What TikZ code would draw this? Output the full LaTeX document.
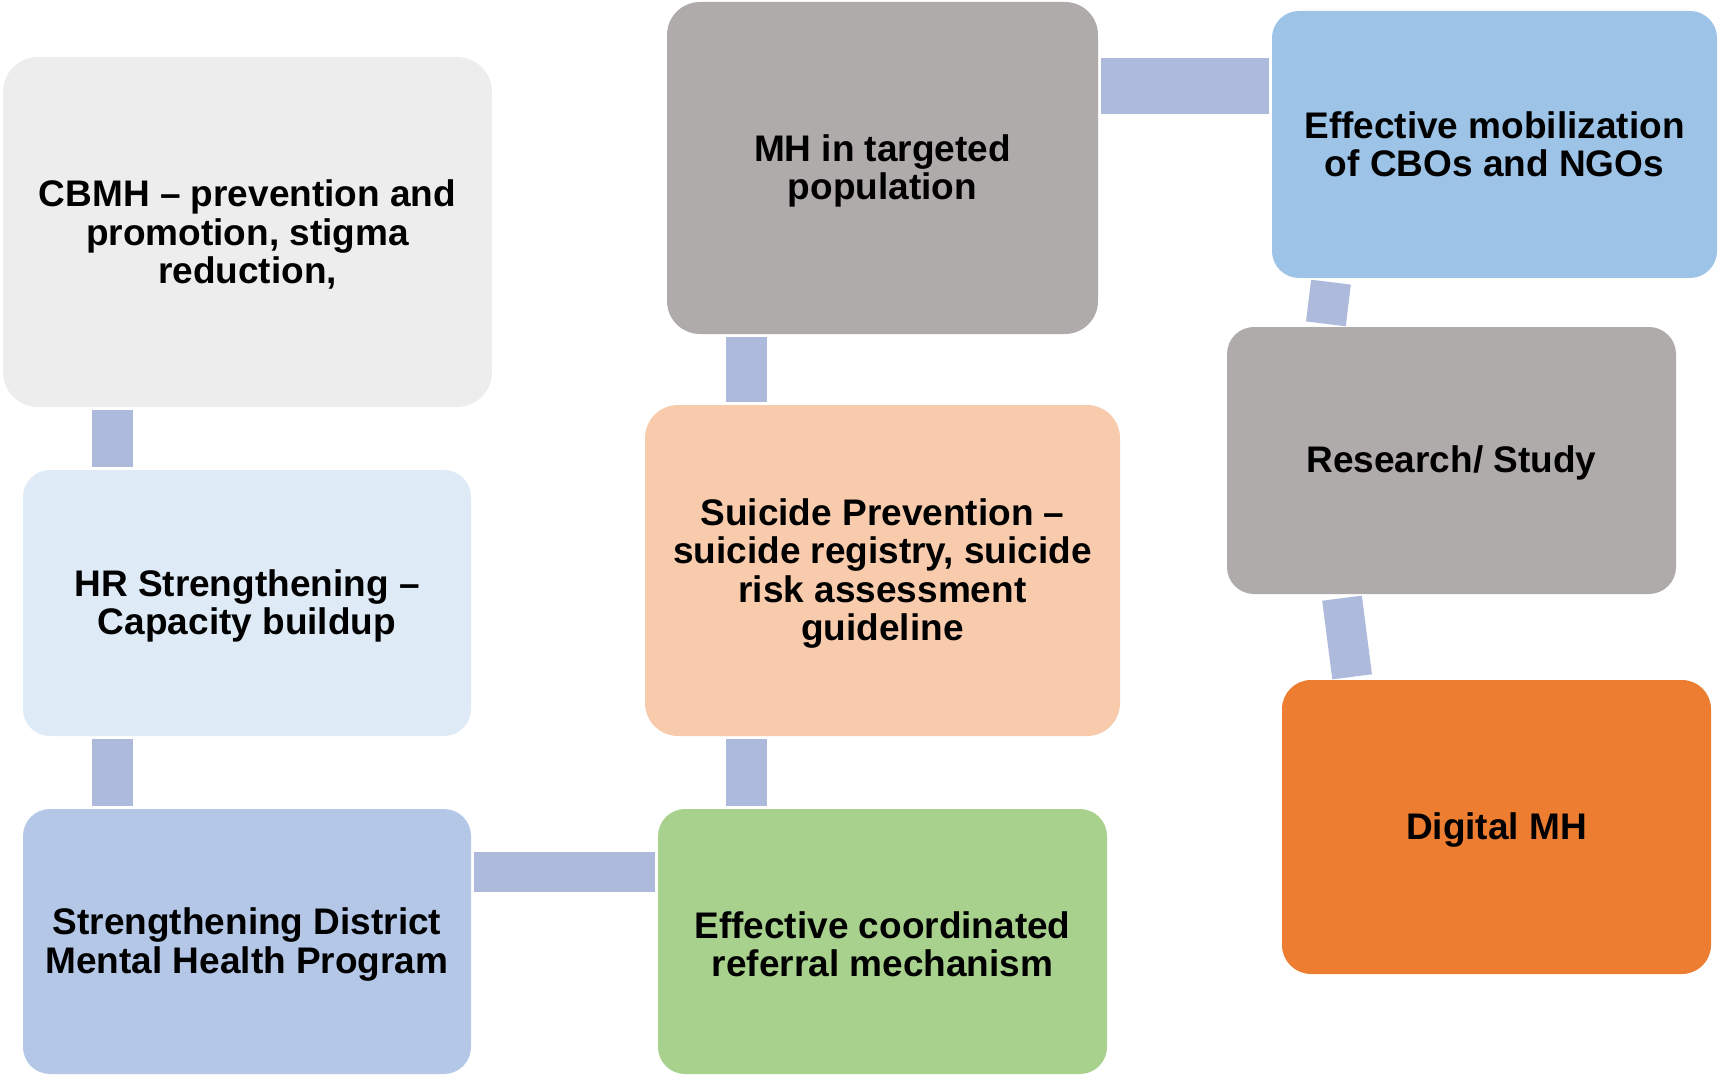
\documentclass[tikz,border=0pt]{standalone}
\usepackage{fontspec}
\setmainfont{Liberation Sans}
\definecolor{cbmhgrey}{HTML}{EDEDED}
\definecolor{hrblue}{HTML}{DEEAF6}
\definecolor{districtblue}{HTML}{B4C7E7}
\definecolor{stonegrey}{HTML}{AFABAB}
\definecolor{peach}{HTML}{F8CBAD}
\definecolor{leafgreen}{HTML}{A9D18E}
\definecolor{skyblue}{HTML}{9DC3E6}
\definecolor{digitalorange}{HTML}{ED7D31}
\definecolor{linkblue}{HTML}{AEBADC}
\newcommand\lift{\rule{0pt}{32.5pt}}

\begin{document}
\begin{tikzpicture}[
  x=1pt, y=-1pt,
  card/.style = {rectangle, rounded corners=#1, inner sep=0pt, align=center, text=black,
    font=\fontsize{37}{38.4}\selectfont\bfseries},
  card/.default = 27pt,
  link/.style = {draw=linkblue, line width=#1, shorten <=3pt, shorten >=3pt},
  link/.default = 41pt
]
  \useasboundingbox (0,0) rectangle (1718,1075);

  \node[card=35pt, fill=cbmhgrey, minimum width=489pt, minimum height=350pt] (cbmh) at (247.5,232)
    {\lift CBMH -- prevention and\\promotion, stigma\\reduction,};
  \node[card, fill=hrblue, minimum width=448pt, minimum height=266pt] (hr) at (247,603)
    {\lift HR Strengthening --\\Capacity buildup};
  \node[card, fill=districtblue, minimum width=448pt, minimum height=265pt] (district) at (247,941.5)
    {\lift Strengthening District\\Mental Health Program};
  \node[card=33pt, fill=stonegrey, minimum width=431pt, minimum height=332pt] (targeted) at (882.5,168)
    {\lift MH in targeted\\population};
  \node[card=33pt, fill=peach, minimum width=475pt, minimum height=331pt] (suicide) at (882.5,570.5)
    {\lift Suicide Prevention --\\suicide registry, suicide\\risk assessment\\guideline};
  \node[card, fill=leafgreen, minimum width=449pt, minimum height=265pt] (referral) at (882.5,941.5)
    {\lift Effective coordinated\\referral mechanism};
  \node[card, fill=skyblue, minimum width=445pt, minimum height=267pt] (mobilize) at (1494.5,144.5)
    {Effective mobilization\\of CBOs and NGOs};
  \node[card, fill=stonegrey, minimum width=449pt, minimum height=267pt] (research) at (1451.5,460.5)
    {\lift Research/ Study};
  \node[card=29pt, fill=digitalorange, minimum width=429pt, minimum height=294pt] (digital) at (1496.5,827)
    {\lift Digital MH};

  \draw[link] ([xshift=-135.5pt]cbmh.south) -- ([xshift=-135pt]hr.north);
  \draw[link] ([xshift=-135pt]hr.south) -- ([xshift=-135pt]district.north);
  \draw[link=40pt] ([yshift=69.5pt]district.east) -- ([yshift=69.5pt]referral.west);
  \draw[link] ([xshift=-136pt]referral.north) -- ([xshift=-136pt]suicide.south);
  \draw[link] ([xshift=-136pt]suicide.north) -- ([xshift=-136pt]targeted.south);
  \draw[link=56pt] ([yshift=81.5pt]targeted.east) -- ([yshift=58pt]mobilize.west);
  \draw[link=40pt, shorten <=4pt, shorten >=3pt] ([xshift=-163pt]mobilize.south) -- ([xshift=-126pt]research.north);
  \draw[link=40pt, shorten <=4pt, shorten >=3pt] ([xshift=-110pt]research.south) -- ([xshift=-144pt]digital.north);
\end{tikzpicture}
\end{document}
